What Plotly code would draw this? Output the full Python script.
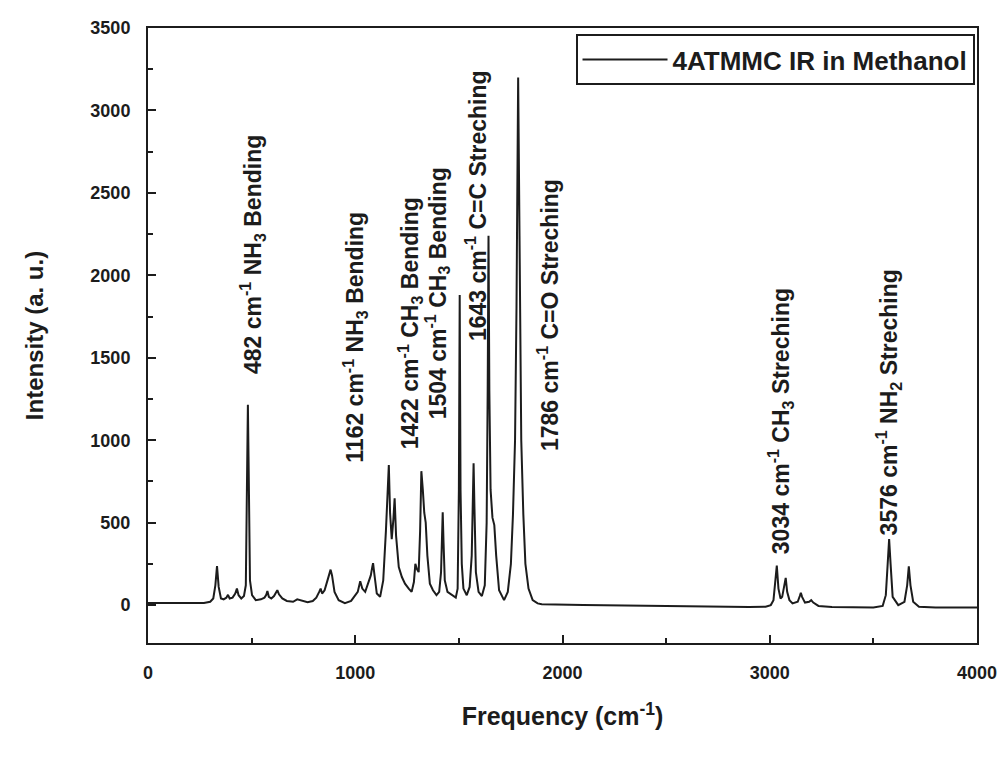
import plotly.graph_objects as go

# IR spectrum of 4ATMMC in methanol, read point by point (cm^-1, a.u.)
# fingerprint region
freq_low = [0, 100, 200, 270, 300, 315, 325, 333, 341, 352, 365, 378, 386, 394, 408,
            421, 429, 437, 450, 463, 472, 476, 479, 482, 485, 488, 492, 502, 520, 545,
            562, 570, 576, 583, 595, 608, 618, 624, 632, 648, 670, 700, 720, 745, 770,
            795, 812, 826, 833, 840, 852, 866, 875, 881, 888, 900, 920, 950]
int_low = [12, 12, 10, 12, 20, 40, 120, 236, 110, 40, 35, 45, 62, 40, 45,
           70, 100, 60, 40, 55, 120, 450, 900, 1215, 900, 450, 150, 60, 30, 35,
           45, 60, 85, 50, 40, 55, 75, 90, 65, 40, 25, 20, 35, 25, 18,
           25, 45, 80, 100, 70, 90, 150, 200, 215, 180, 80, 30, 12]

# 1000-1900 cm^-1 band region
freq_mid = [980, 1000, 1012, 1024, 1034, 1048, 1062, 1075, 1082, 1086, 1092, 1104, 1120,
            1135, 1148, 1156, 1162, 1168, 1176, 1184, 1190, 1197, 1210, 1225, 1240,
            1258, 1272, 1283, 1290, 1297, 1306, 1313, 1319, 1326, 1333, 1340, 1348,
            1360, 1375, 1392, 1405, 1414, 1418, 1422, 1426, 1432, 1445, 1467, 1485,
            1494, 1500, 1504, 1508, 1514, 1522, 1538, 1552, 1562, 1567, 1571, 1575,
            1582, 1595, 1611, 1625, 1634, 1639, 1643, 1647, 1653, 1662, 1671, 1680,
            1694, 1718, 1736, 1751, 1761, 1771, 1778, 1786, 1794, 1801, 1811, 1821,
            1836, 1856, 1880]
int_mid = [25, 60, 80, 145, 100, 80, 130, 180, 230, 254, 190, 70, 50,
           150, 450, 700, 850, 560, 400, 520, 648, 420, 230, 170, 130,
           100, 80, 140, 250, 220, 200, 450, 812, 700, 560, 500, 300,
           130, 90, 60, 80, 200, 380, 563, 380, 150, 80, 60, 45,
           100, 700, 1880, 700, 250, 100, 60, 110, 300, 600, 860, 600,
           200, 80, 55, 120, 500, 1300, 2240, 1300, 700, 530, 485, 300,
           90, 30, 80, 250, 550, 1000, 1800, 3200, 1800, 1000, 550, 250,
           100, 30, 10]

# C-H / N-H stretching region
freq_high = [1900, 2100, 2400, 2700, 2900, 2980, 3005, 3018, 3026, 3034, 3042, 3052, 3060,
             3070, 3077, 3084, 3095, 3110, 3135, 3145, 3150, 3156, 3170, 3190, 3200,
             3210, 3235, 3300, 3400, 3500, 3545, 3560, 3569, 3576, 3583, 3593, 3620,
             3650, 3663, 3671, 3679, 3692, 3720, 3800, 3900, 4000]
int_high = [5, 0, -5, -10, -12, -10, 0, 30, 120, 240, 100, 40, 50,
            120, 165, 80, 30, 10, 20, 55, 75, 50, 15, 20, 30,
            15, -5, -12, -14, -14, -5, 60, 250, 400, 250, 50, 0,
            20, 120, 235, 120, 20, -10, -15, -15, -15]

# band assignments: label text, x position, bottom of text (a.u.)
band_text = ["482 cm<sup>-1</sup> NH<sub>3</sub> Bending",
             "1162 cm<sup>-1</sup> NH<sub>3</sub> Bending",
             "1422 cm<sup>-1</sup> CH<sub>3</sub> Bending",
             "1504 cm<sup>-1</sup> CH<sub>3</sub> Bending",
             "1643 cm<sup>-1</sup> C=C Streching",
             "1786 cm<sup>-1</sup> C=O Streching",
             "3034 cm<sup>-1</sup> CH<sub>3</sub> Streching",
             "3576 cm<sup>-1</sup> NH<sub>2</sub> Streching"]
band_x = [505, 1000, 1262, 1395, 1586, 1933, 3053, 3575]
band_y = [1390, 850, 930, 1115, 1590, 920, 295, 410]

freq = freq_low + freq_mid + freq_high
intensity = int_low + int_mid + int_high

FONT = "Liberation Sans"
INK = "#1c1c1c"

fig = go.Figure()
fig.add_trace(go.Scatter(
    x=freq, y=intensity, mode="lines",
    name="4ATMMC IR in Methanol",
    line=dict(color=INK, width=2),
))

for txt, bx, by in zip(band_text, band_x, band_y):
    fig.add_annotation(
        x=bx, y=by, xref="x", yref="y", text=txt, textangle=-90,
        showarrow=False, xanchor="center", yanchor="bottom",
        font=dict(family=FONT, size=23, color=INK, weight="bold"),
    )

axis_common = dict(
    showline=True, linecolor=INK, linewidth=2, mirror=True,
    showgrid=False, zeroline=False,
    ticks="inside", ticklen=8, tickwidth=2, tickcolor=INK,
    tickfont=dict(family=FONT, size=18, color=INK, weight="bold"),
    ticklabelstandoff=12,
)

fig.update_layout(
    width=1006, height=758,
    margin=dict(l=148, r=29, t=28, b=115, autoexpand=False),
    paper_bgcolor="white", plot_bgcolor="white",
    xaxis=dict(
        range=[0, 4000], tickvals=[0, 1000, 2000, 3000, 4000],
        minor=dict(tickvals=[500, 1500, 2500, 3500], ticks="inside",
                   ticklen=5, tickwidth=2, tickcolor=INK),
        title=dict(text="Frequency (cm<sup>-1</sup>)", standoff=26,
                   font=dict(family=FONT, size=25, color=INK, weight="bold")),
        **axis_common,
    ),
    yaxis=dict(
        range=[-230, 3500], dtick=500, tick0=0,
        minor=dict(dtick=250, ticks="inside", ticklen=5, tickwidth=2, tickcolor=INK),
        title=dict(text="Intensity (a. u.)", standoff=40,
                   font=dict(family=FONT, size=24, color=INK, weight="bold")),
        **axis_common,
    ),
    showlegend=True,
    legend=dict(
        x=0.997, y=0.99, xanchor="right", yanchor="top",
        bordercolor=INK, borderwidth=2, bgcolor="white",
        font=dict(family=FONT, size=26, color=INK, weight="bold"),
        itemwidth=85,
    ),
)

fig.write_html("out.html")
